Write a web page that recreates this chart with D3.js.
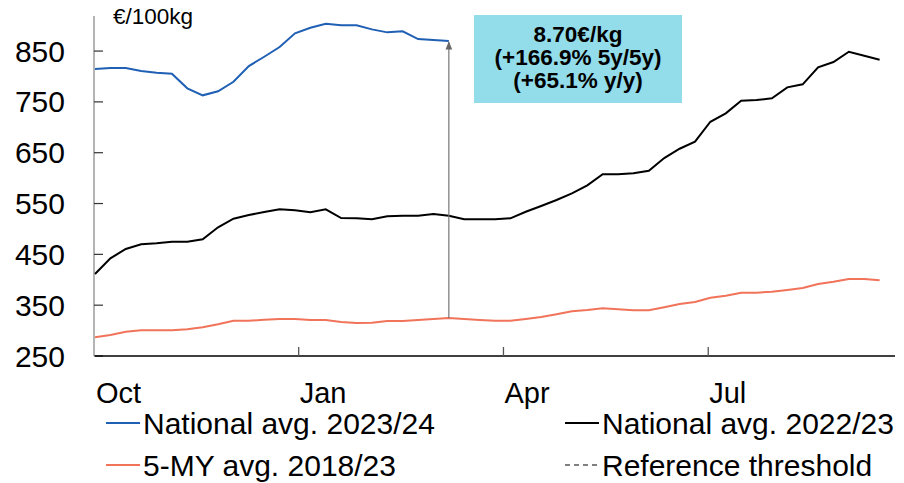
<!DOCTYPE html>
<html><head><meta charset="utf-8">
<script src="https://cdn.jsdelivr.net/npm/d3@7"></script>
<style>
html,body{margin:0;padding:0;background:#fff;}
svg{display:block;font-family:"Liberation Sans",Arial,sans-serif;}
</style></head>
<body><svg id="c" width="904" height="483"></svg>
<script>
// weeks of the marketing year (Oct -> Sep)
const weeks = d3.range(52);
const national2324 = [814.6,816.6,816.6,810.7,807.4,805.4,776.7,762.9,770.8,789.6,820.5,838.8,857.9,884.9,895.9,903.8,900.6,900.6,892.7,886.8,888.8,873.6,871.7,869.7];
const national2223 = [411.3,442.2,460.5,469.8,471.7,474.9,474.9,479.6,503.2,520.1,527.4,533.3,538.6,536.6,532.7,538.6,521.5,520.9,518.9,524.8,526.0,526.0,529.4,526.0,
  518.9,518.9,518.9,520.9,533.9,545.1,556.9,570.1,585.8,607.5,607.5,609.4,614.5,639.5,657.8,671.6,710.9,727.5,752.3,753.6,757.0,778.6,784.5,818.0,828.4,848.7,840.8,832.9];
const avg5y = [286.8,291.3,297.8,300.6,300.6,300.6,302.5,306.5,312.4,319.4,319.4,321.4,322.8,322.8,320.8,320.8,316.9,314.9,315.5,318.9,318.9,320.8,322.8,324.8,
  322.8,320.8,319.4,319.4,322.8,326.7,332.0,337.9,340.5,343.8,341.9,339.9,339.9,345.8,352.3,356.3,364.7,368.6,374.5,374.5,376.5,379.8,383.7,391.6,396.2,401.5,401.5,398.9];
const yTicks = [250,350,450,550,650,750,850];
const xTickWeeks = [0,13.24,26.55,39.86];
const xTickLabels = ["Oct","Jan","Apr","Jul"];
const arrowWeek = 23;
const calloutLines = ["8.70€/kg","(+166.9% 5y/5y)","(+65.1% y/y)"];
const unitLabel = "€/100kg";
const legendItems = [
  {label:"National avg. 2023/24", color:"#1f5fb4", dash:null},
  {label:"National avg. 2022/23", color:"#000000", dash:null},
  {label:"5-MY avg. 2018/23", color:"#f0735a", dash:null},
  {label:"Reference threshold", color:"#808080", dash:"5,4"}
];

const svg = d3.select("#c");
const x = d3.scaleLinear().domain([0,52]).range([95,895]);
const y = d3.scaleLinear().domain([250,919]).range([356,16]);

// y axis
svg.append("line").attr("x1",94).attr("x2",94).attr("y1",y(919)).attr("y2",y(250))
  .attr("stroke","#8c8c8c").attr("stroke-width",1.3);
svg.selectAll(".yt").data(yTicks).enter().append("line")
  .attr("x1",94).attr("x2",103).attr("y1",d=>y(d)).attr("y2",d=>y(d))
  .attr("stroke","#333").attr("stroke-width",1.2);
svg.selectAll(".yl").data(yTicks).enter().append("text")
  .attr("x",65).attr("y",d=>y(d)).attr("text-anchor","end").attr("dominant-baseline","central")
  .attr("font-size",30).attr("fill","#000").text(d=>d);

// x axis
svg.append("line").attr("x1",x(0)).attr("x2",x(52)).attr("y1",356).attr("y2",356)
  .attr("stroke","#000").attr("stroke-width",1.5);
svg.selectAll(".xt").data(xTickWeeks.slice(1)).enter().append("line")
  .attr("x1",d=>x(d)).attr("x2",d=>x(d)).attr("y1",347).attr("y2",356)
  .attr("stroke","#555").attr("stroke-width",1.3);
svg.selectAll(".xl").data(xTickWeeks).enter().append("text")
  .attr("x",(d)=>x(d)+1).attr("y",403).attr("font-size",29).attr("fill","#000")
  .text((d,i)=>xTickLabels[i]);

svg.append("text").attr("x",113).attr("y",24).attr("font-size",22.5).text(unitLabel);

const line = d3.line().x((d,i)=>x(weeks[i])).y(d=>y(d));
svg.append("path").datum(avg5y).attr("d",line).attr("fill","none").attr("stroke","#f0735a").attr("stroke-width",2);
svg.append("path").datum(national2223).attr("d",line).attr("fill","none").attr("stroke","#000").attr("stroke-width",2);
svg.append("path").datum(national2324).attr("d",line).attr("fill","none").attr("stroke","#1f5fb4").attr("stroke-width",2);

// arrow
svg.append("defs").append("marker").attr("id","ah").attr("viewBox","0 0 10 10").attr("refX",9).attr("refY",5)
  .attr("markerWidth",7).attr("markerHeight",7).attr("orient","auto")
  .append("path").attr("d","M0,1 L10,5 L0,9 z").attr("fill","#666");
svg.append("line").attr("x1",x(arrowWeek)).attr("x2",x(arrowWeek))
  .attr("y1",y(avg5y[arrowWeek])).attr("y2",y(national2324[arrowWeek])+1)
  .attr("stroke","#777").attr("stroke-width",1.2).attr("marker-end","url(#ah)");

// callout
svg.append("rect").attr("x",474).attr("y",15).attr("width",208).attr("height",88).attr("fill","#93dcea");
svg.selectAll(".cl").data(calloutLines).enter().append("text")
  .attr("x",578).attr("y",(d,i)=>42+i*23).attr("text-anchor","middle")
  .attr("font-size",22.5).attr("font-weight","bold").attr("fill","#000").text(d=>d);

// legend
const lg = svg.selectAll(".lg").data(legendItems).enter().append("g")
  .attr("transform",(d,i)=>`translate(${i%2===0?106:565},${i<2?423:465})`);
lg.append("line").attr("x1",0).attr("x2",34).attr("y1",0).attr("y2",0)
  .attr("stroke",d=>d.color).attr("stroke-width",2).attr("stroke-dasharray",d=>d.dash);
lg.append("text").attr("x",37).attr("y",11).attr("font-size",30).attr("fill","#000").text(d=>d.label);
</script></body></html>
